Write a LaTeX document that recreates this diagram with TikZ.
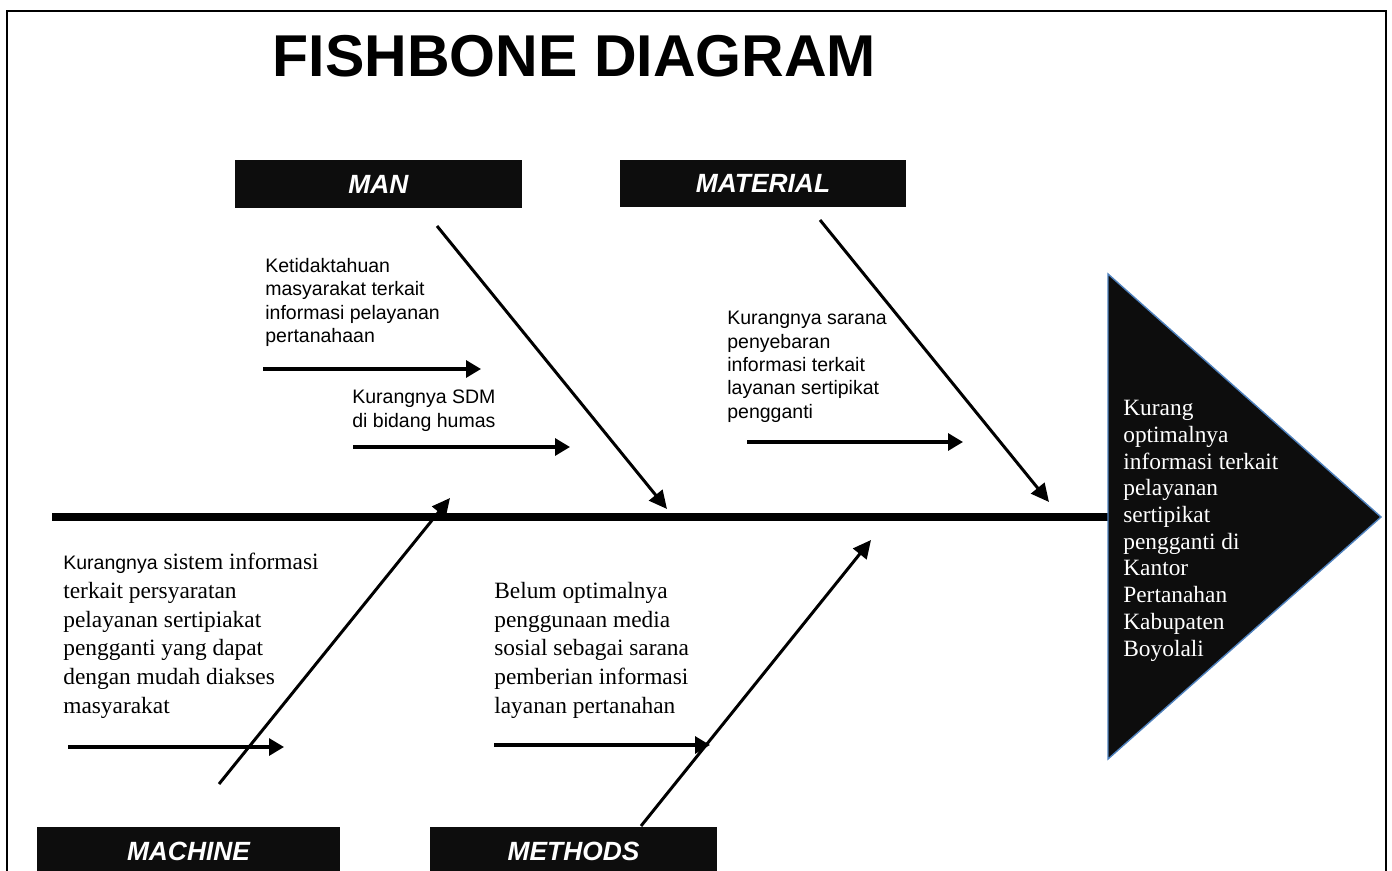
\documentclass[tikz,border=0pt]{standalone}
\usepackage{fontspec}
\setmainfont{Liberation Serif}
\setsansfont{Liberation Sans}
\usetikzlibrary{arrows.meta}
\definecolor{boxblack}{RGB}{13,13,13}
\definecolor{headblue}{RGB}{79,129,189}

\begin{document}
\begin{tikzpicture}[x=0.02cm,y=-0.02cm,
    bone/.style={line width=1.7pt,-{Triangle[length=0.36cm,width=0.34cm]}},
    twig/.style={line width=1.8pt,-{Triangle[length=0.3cm,width=0.34cm]}},
    catbox/.style={fill=boxblack,text=white,inner sep=0pt,text height=10.7pt,text depth=0pt,font=\sffamily\bfseries\itshape\fontsize{15}{18}\selectfont},
    sanslabel/.style={anchor=north west,inner sep=0pt,align=left,font=\sffamily\fontsize{11.1}{13.3}\selectfont},
    seriflabel/.style={anchor=north west,inner sep=0pt,align=left,font=\fontsize{13.3}{16.3}\selectfont}]
  \useasboundingbox (0,0) rectangle (1392,871);
  % frame, open at the bottom
  \draw[line width=1.1pt] (7,890) -- (7,11) -- (1386,11) -- (1386,890);
  \node[font=\sffamily\bfseries\fontsize{33.6}{40}\selectfont,anchor=base] (title) at (574.5,77) {FISHBONE DIAGRAM};

  % category boxes
  \node[catbox,minimum width=5.74cm,minimum height=0.96cm] (man) at (378.5,184) {MAN};
  \node[catbox,minimum width=5.72cm,minimum height=0.94cm] (material) at (763,183.5) {MATERIAL};
  \node[catbox,minimum width=6.06cm,minimum height=0.96cm] (machine) at (188.5,851) {MACHINE};
  \node[catbox,minimum width=5.74cm,minimum height=0.96cm] (methods) at (573.5,851) {METHODS};

  % spine and head
  \coordinate (tail) at (52,517);
  \coordinate (headw) at (1108,517);
  \draw[line width=5pt] (tail) -- (headw);
  \filldraw[fill=boxblack,draw=headblue,line width=0.8pt] (1108,274) -- (1381,517) -- (1108,759) -- cycle;
  \node[seriflabel,text=white,font=\fontsize{13.3}{15.2}\selectfont] (effect) at (1123,400)
    {Kurang\\optimalnya\\informasi terkait\\pelayanan\\sertipikat\\pengganti di\\Kantor\\Pertanahan\\Kabupaten\\Boyolali};

  % main bones
  \coordinate (manA) at (437,226);     \coordinate (manB) at (667,509);
  \coordinate (matA) at (820,220);     \coordinate (matB) at (1049,502);
  \coordinate (macA) at (219,784);     \coordinate (macB) at (450,498);
  \coordinate (metA) at (641,826);     \coordinate (metB) at (871,540);
  \draw[bone] (manA) -- (manB);
  \draw[bone] (matA) -- (matB);
  \draw[bone] (macA) -- (macB);
  \draw[bone] (metA) -- (metB);

  % causes
  \node[sanslabel] (tahu) at (265,258) {Ketidaktahuan\\masyarakat terkait\\informasi pelayanan\\pertanahaan};
  \coordinate (tahuA) at (263,369);    \coordinate (tahuB) at (481,369);
  \draw[twig] (tahuA) -- (tahuB);
  \node[sanslabel] (sdm) at (352,390) {Kurangnya SDM\\di bidang humas};
  \coordinate (sdmA) at (353,447);     \coordinate (sdmB) at (570,447);
  \draw[twig] (sdmA) -- (sdmB);
  \node[sanslabel] (sarana) at (727,311) {Kurangnya sarana\\penyebaran\\informasi terkait\\layanan sertipikat\\pengganti};
  \coordinate (saranaA) at (747,442);  \coordinate (saranaB) at (963,442);
  \draw[twig] (saranaA) -- (saranaB);
  \node[seriflabel] (sistem) at (63,553) {{\sffamily\fontsize{11.1}{16.3}\selectfont Kurangnya} sistem informasi\\terkait persyaratan\\pelayanan sertipiakat\\pengganti yang dapat\\dengan mudah diakses\\masyarakat};
  \coordinate (sistemA) at (68,747);   \coordinate (sistemB) at (284,747);
  \draw[twig] (sistemA) -- (sistemB);
  \node[seriflabel] (medsos) at (494,582) {Belum optimalnya\\penggunaan media\\sosial sebagai sarana\\pemberian informasi\\layanan pertanahan};
  \coordinate (medsosA) at (494,745);  \coordinate (medsosB) at (710,745);
  \draw[twig] (medsosA) -- (medsosB);
\end{tikzpicture}
\end{document}
